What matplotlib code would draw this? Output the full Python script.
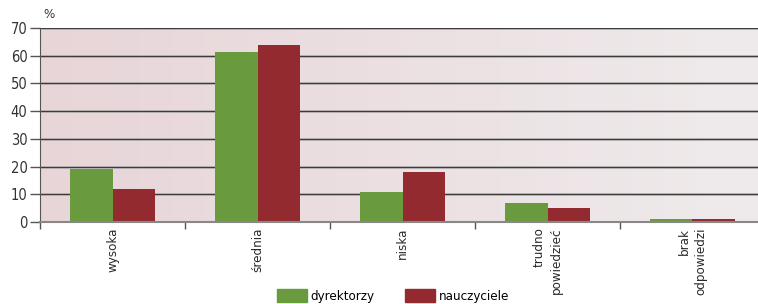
import matplotlib.pyplot as plt
import matplotlib.patches as mpatches
import numpy as np
from matplotlib.colors import LinearSegmentedColormap

plt.rcParams['font.family'] = ['DejaVu Sans']
plt.rcParams['font.stretch'] = 'condensed'

# Data
categories = ['wysoka', 'średnia', 'niska', 'trudno\npowiedzieć', 'brak\nodpowiedzi']
dyrektorzy = [19, 61.5, 11, 7, 1]
nauczyciele = [12, 64, 18, 5, 1]
yticks = [0, 10, 20, 30, 40, 50, 60, 70]

col_green = '#6A9A3E'
col_red = '#922A30'

fig = plt.figure(figsize=(7.58, 3.04), dpi=100)
ax = fig.add_axes([40 / 758, 82 / 304, 725 / 758, 194 / 304])

# Gradient background
grad = LinearSegmentedColormap.from_list('bg', ['#E8D5D8', '#EFEBEC'])
ax.imshow(np.linspace(0, 1, 256).reshape(1, -1), cmap=grad, aspect='auto',
          extent=(-0.5, 4.5, 0, 70), zorder=0)

# Gridlines (dark line with light halo)
for yv in yticks[1:]:
    ax.axhline(yv, color='#c2bcbe', lw=2.0, zorder=1)
    ax.axhline(yv, color='#3c3c3c', lw=0.9, zorder=1.1)

x = np.arange(len(categories))
w = 0.29
ax.bar(x - w / 2, dyrektorzy, w, color=col_green, zorder=2)
ax.bar(x + w / 2, nauczyciele, w, color=col_red, zorder=2)

ax.set_xlim(-0.5, 4.5)
ax.set_ylim(0, 70)
ax.set_yticks(yticks)
ax.tick_params(axis='y', labelsize=10.5, length=7, width=1, color='#555555',
               labelcolor='#333333', pad=2)

# Category boundary ticks, labels at centres
ax.set_xticks(np.arange(-0.5, 5.0, 1.0))
ax.set_xticklabels([])
ax.tick_params(axis='x', length=5, width=1, color='#555555')
for xi, lab in zip(x, categories):
    ax.text(xi, -2.0, lab, rotation=90, ha='center', va='top', fontsize=9.5,
            color='#2a2a2a', multialignment='right', linespacing=1.4)

for s in ['top', 'right']:
    ax.spines[s].set_visible(False)
ax.spines['left'].set_color('#555555')
ax.spines['bottom'].set_color('#888888')
ax.spines['bottom'].set_linewidth(1.5)

fig.text(43 / 758, 1 - 15 / 304, '%', fontsize=9.5, color='#333333', va='center')

handles = [mpatches.Patch(color=col_green, label='dyrektorzy'),
           mpatches.Patch(color=col_red, label='nauczyciele')]
fig.legend(handles=handles, loc='upper left', bbox_to_anchor=(277 / 758, 1 - 289 / 304),
           ncol=2, frameon=False, fontsize=9.5, handlelength=2.3, handleheight=1.15,
           handletextpad=0.25, columnspacing=2.3, borderaxespad=0, borderpad=0)

fig.savefig('out.png', dpi=100)
